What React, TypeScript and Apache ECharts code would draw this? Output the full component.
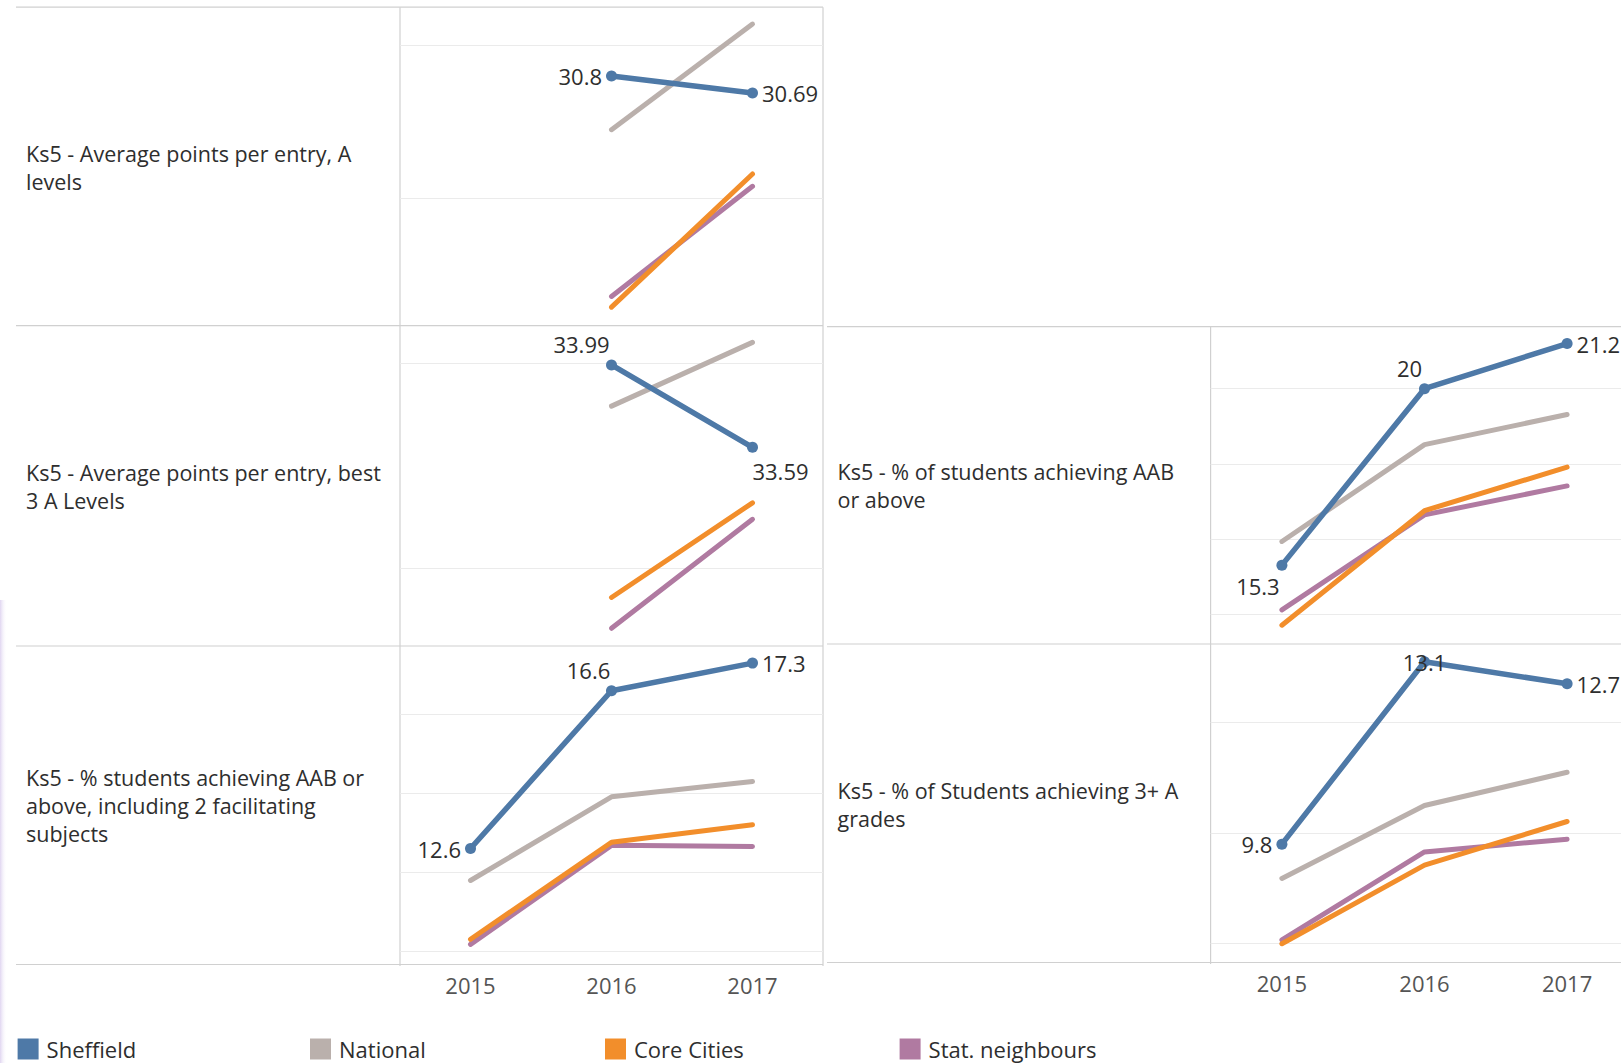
import React, { useEffect, useRef } from 'react';
import * as echarts from 'echarts';

// ---------- data ----------
const years = ['2015', '2016', '2017'];
const seriesNames = ['Sheffield', 'National', 'Core Cities', 'Stat. neighbours'];

const measureLabels = [
  'Ks5 - Average points per entry, A\nlevels',
  'Ks5 - Average points per entry, best\n3 A Levels',
  'Ks5 - % students achieving AAB or\nabove, including 2 facilitating\nsubjects',
  'Ks5 - % of students achieving AAB\nor above',
  'Ks5 - % of Students achieving 3+ A\ngrades',
];

// Ks5 - Average points per entry, A levels
const sheffieldAps = [null, 30.8, 30.69];
const nationalAps = [null, 30.45, 31.14];
const coreAps = [null, 29.29, 30.16];
const statAps = [null, 29.36, 30.08];

// Ks5 - Average points per entry, best 3 A Levels
const sheffieldBest3 = [null, 33.99, 33.59];
const nationalBest3 = [null, 33.79, 34.1];
const coreBest3 = [null, 32.86, 33.32];
const statBest3 = [null, 32.71, 33.24];

// Ks5 - % students achieving AAB or above, including 2 facilitating subjects
const sheffieldAabFac = [12.6, 16.6, 17.3];
const nationalAabFac = [11.79, 13.91, 14.3];
const coreAabFac = [10.3, 12.76, 13.2];
const statAabFac = [10.17, 12.68, 12.65];

// Ks5 - % of students achieving AAB or above
const sheffieldAab = [15.3, 20, 21.2];
const nationalAab = [15.93, 18.51, 19.31];
const coreAab = [13.7, 16.75, 17.91];
const statAab = [14.11, 16.64, 17.41];

// Ks5 - % of Students achieving 3+ A grades
const sheffield3A = [9.8, 13.1, 12.7];
const national3A = [9.18, 10.5, 11.1];
const core3A = [8.0, 9.42, 10.21];
const stat3A = [8.07, 9.66, 9.89];

// gridline values per panel
const ticksAps = [30, 31];
const ticksBest3 = [33, 34];
const ticksAabFac = [10, 12, 14, 16];
const ticksAab = [14, 16, 18, 20];
const ticks3A = [8, 10, 12];

const panelValues = [
  [sheffieldAps, nationalAps, coreAps, statAps],
  [sheffieldBest3, nationalBest3, coreBest3, statBest3],
  [sheffieldAabFac, nationalAabFac, coreAabFac, statAabFac],
  [sheffieldAab, nationalAab, coreAab, statAab],
  [sheffield3A, national3A, core3A, stat3A],
];
const panelTicks = [ticksAps, ticksBest3, ticksAabFac, ticksAab, ticks3A];

// ---------- layout / style ----------
const FONT = '"Open Sans", "Noto Sans", sans-serif';
const TEXT = '#2e2e2e';
const seriesColors = ['#4e79a7', '#bab0ac', '#f28e2b', '#b07aa1'];
const PAGE_W = 1621;
const PAGE_H = 1063;
const CANVAS_W = 1660;

const panelLayout = [
  { left: 400, top: 7.2, width: 423, height: 318.5, min: 29.169, max: 31.25, labelX: 26, labelY: 167, years: false },
  { left: 400, top: 325.7, width: 423, height: 320.3, min: 32.624, max: 34.181, labelX: 26, labelY: 486, years: false },
  { left: 400, top: 646, width: 423, height: 318.5, min: 9.66, max: 17.734, labelX: 26, labelY: 805, years: true },
  { left: 1210.6, top: 326.7, width: 427.8, height: 317.3, min: 13.2, max: 21.65, labelX: 837.5, labelY: 485.5, years: false },
  { left: 1210.6, top: 644, width: 427.8, height: 318.5, min: 7.66, max: 13.42, labelX: 837.5, labelY: 804, years: true },
];

const labelPlacement: any[][] = [
  [null, { position: 'left' }, { position: 'right' }],
  [null, { position: 'top', offset: [-30, 0] }, { position: 'bottom', offset: [28, 3] }],
  [{ position: 'left' }, { position: 'top', offset: [-23, 0] }, { position: 'right' }],
  [{ position: 'bottom', offset: [-24, 0] }, { position: 'top', offset: [-15, 0] }, { position: 'right' }],
  [{ position: 'left' }, { position: 'inside' }, { position: 'right' }],
];

const legendX = [17.6, 310, 605, 899.6];

function buildOption() {
  const grid = panelLayout.map((p) => ({ left: p.left, top: p.top, width: p.width, height: p.height }));
  const xAxis = panelLayout.map((p, i) => ({
    type: 'category',
    gridIndex: i,
    data: years,
    boundaryGap: true,
    axisLine: { show: false },
    axisTick: { show: false },
    splitLine: { show: false },
    axisLabel: { show: p.years, fontSize: 22, color: '#555555', fontFamily: FONT, margin: 9 },
  }));
  const yAxis = panelLayout.map((p, i) => ({
    type: 'value',
    gridIndex: i,
    min: p.min,
    max: p.max,
    show: false,
    splitLine: { show: false },
  }));

  const series: any[] = [];
  panelValues.forEach((vals, i) => {
    [3, 2, 1, 0].forEach((k, order) => {
      const isSheff = k === 0;
      const s: any = {
        type: 'line',
        name: seriesNames[k],
        xAxisIndex: i,
        yAxisIndex: i,
        z: 2 + order,
        data: vals[k].map((v, j) =>
          isSheff && v != null && labelPlacement[i][j]
            ? { value: v, label: labelPlacement[i][j] }
            : v
        ),
        color: seriesColors[k],
        lineStyle: { color: seriesColors[k], width: isSheff ? 5.5 : 5, cap: 'round', join: 'round' },
        itemStyle: { color: seriesColors[k], borderWidth: 0 },
        symbol: isSheff ? 'circle' : 'none',
        symbolSize: 11,
        showSymbol: isSheff,
        label: isSheff
          ? { show: true, fontSize: 22, color: TEXT, fontFamily: FONT, distance: 4 }
          : { show: false },
        emphasis: { disabled: true },
        silent: true,
      };
      if (order === 0) {
        s.markLine = {
          silent: true,
          symbol: 'none',
          z: 1,
          label: { show: false },
          lineStyle: { color: '#ebebeb', width: 1, type: 'solid' },
          emphasis: { disabled: true },
          data: panelTicks[i].map((t) => ({ yAxis: t })),
        };
      }
      series.push(s);
    });
  });

  const legend = seriesNames.map((n, i) => ({
    data: [n],
    left: legendX[i],
    top: 1038,
    padding: 0,
    icon: 'rect',
    itemWidth: 21,
    itemHeight: 21,
    itemGap: 0,
    selectedMode: false,
    itemStyle: { borderWidth: 0 },
    textStyle: { fontSize: 22, color: TEXT, fontFamily: FONT, padding: [0, 0, 0, 3], lineHeight: 22 },
  }));

  const sepColor = '#d0d0d0';
  const lines: any[] = [];
  const hLine = (x1: number, x2: number, y: number) =>
    lines.push({ type: 'line', silent: true, shape: { x1, y1: y, x2, y2: y }, style: { stroke: sepColor, lineWidth: 1.2 } });
  const vLine = (x: number, y1: number, y2: number) =>
    lines.push({ type: 'line', silent: true, shape: { x1: x, y1, x2: x, y2 }, style: { stroke: sepColor, lineWidth: 1.2 } });
  // left block
  [7.2, 325.7, 646, 964.5].forEach((y) => hLine(16, 823, y));
  vLine(400, 7.2, 966);
  vLine(823, 7.2, 966);
  // right block
  [326.7, 644, 962.5].forEach((y) => hLine(827, PAGE_W, y));
  vLine(1210.6, 326.7, 964);

  const texts = panelLayout.map((p, i) => ({
    type: 'text',
    silent: true,
    x: p.labelX,
    y: p.labelY,
    style: {
      text: measureLabels[i],
      fontSize: 21.5,
      fontFamily: FONT,
      fill: TEXT,
      lineHeight: 28,
      verticalAlign: 'middle',
      align: 'left',
    },
  }));

  const strip = {
    type: 'rect',
    silent: true,
    shape: { x: 0, y: 600, width: 7, height: 463 },
    style: {
      fill: new echarts.graphic.LinearGradient(0, 0, 1, 0, [
        { offset: 0, color: 'rgba(214,200,236,0.75)' },
        { offset: 1, color: 'rgba(255,255,255,0)' },
      ]),
    },
  };

  return {
    animation: false,
    backgroundColor: '#ffffff',
    grid,
    xAxis,
    yAxis,
    legend,
    series,
    graphic: [strip, ...lines, ...texts],
  };
}

export default function App() {
  const ref = useRef<HTMLDivElement>(null);
  useEffect(() => {
    if (!ref.current) return;
    const chart = echarts.init(ref.current, undefined, { renderer: 'svg' });
    chart.setOption(buildOption() as any);
    return () => chart.dispose();
  }, []);
  return (
    <div
      style={{
        position: 'absolute',
        left: 0,
        top: 0,
        width: PAGE_W,
        height: PAGE_H,
        overflow: 'hidden',
        background: '#fff',
      }}
    >
      <div ref={ref} style={{ width: CANVAS_W, height: PAGE_H }} />
    </div>
  );
}
